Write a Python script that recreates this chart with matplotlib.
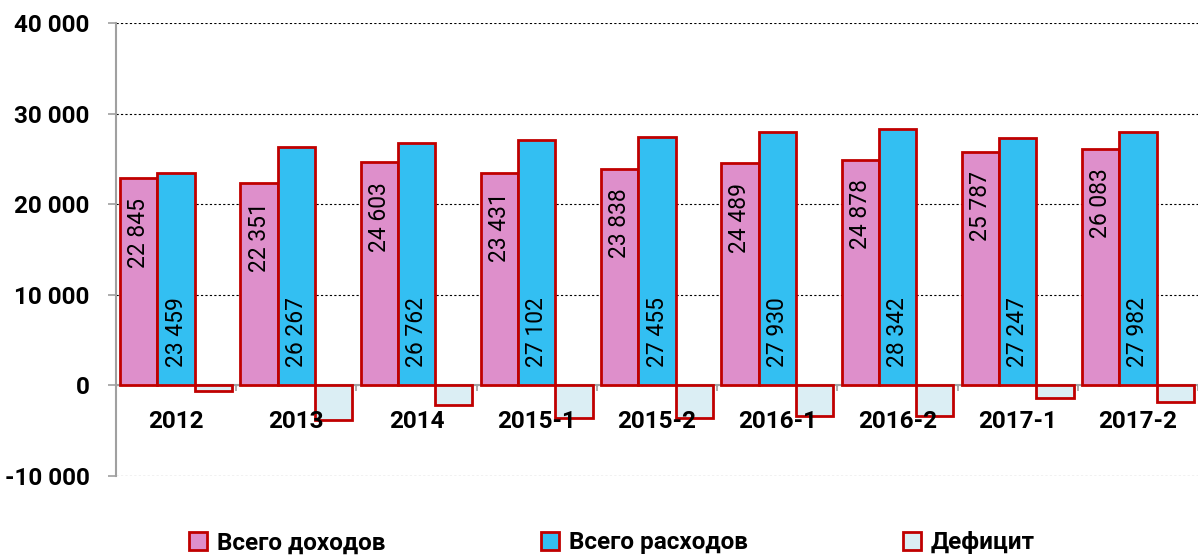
import numpy as np
import matplotlib
matplotlib.use("Agg")
import matplotlib.pyplot as plt
from matplotlib.patches import Patch

plt.rcParams['font.family'] = ['Roboto', 'DejaVu Sans']

# данные
periods = ['2012', '2013', '2014', '2015-1', '2015-2', '2016-1', '2016-2', '2017-1', '2017-2']
income = [22845, 22351, 24603, 23431, 23838, 24489, 24878, 25787, 26083]
expenses = [23459, 26267, 26762, 27102, 27455, 27930, 28342, 27247, 27982]
deficit = [-614, -3916, -2159, -3671, -3617, -3441, -3464, -1460, -1899]
legend_labels = ['Всего доходов', 'Всего расходов', 'Дефицит']

c_inc = '#DE8FCB'
c_exp = '#33BFF2'
c_def = '#DBEEF4'
c_edge = '#C00000'

def fmt(v):
    return f"{v:,}".replace(',', ' ')

fig = plt.figure(figsize=(11.98, 5.55), dpi=100)
ax = fig.add_axes([116/1198, 1-476/555, 1-116/1198, (476-23)/555])

x = np.arange(len(periods))
w = 0.31
ax.bar(x - w, income, w, color=c_inc, edgecolor=c_edge, linewidth=2, zorder=3)
ax.bar(x, expenses, w, color=c_exp, edgecolor=c_edge, linewidth=2, zorder=3)
ax.bar(x + w, deficit, w, color=c_def, edgecolor=c_edge, linewidth=2, zorder=3)

# подписи значений
for xi, v in zip(x - w, income):
    ax.annotate(fmt(v), (xi, v), xytext=(0, -14), textcoords='offset points',
                rotation=90, ha='center', va='top', fontsize=16.5, zorder=4)
for xi, v in zip(x, expenses):
    ax.annotate(fmt(v), (xi, 0), xytext=(0, 13), textcoords='offset points',
                rotation=90, ha='center', va='bottom', fontsize=16.5, zorder=4)

# подписи категорий
for xi, p in zip(x, periods):
    ax.annotate(p, (xi, 0), xytext=(0, -26), textcoords='offset points',
                ha='center', va='center', fontsize=17.5, fontweight='bold', zorder=5)

ax.set_xlim(-0.5, len(periods) - 0.5)
ax.set_ylim(-10050, 40000)
ax.set_yticks(np.arange(-10000, 40001, 10000))
ax.set_yticklabels([fmt(v) for v in range(-10000, 40001, 10000)],
                   fontsize=17.5, fontweight='bold')
ax.set_xticks(np.arange(-0.5, len(periods), 1))
ax.set_xticklabels([])

for s in ['top', 'right']:
    ax.spines[s].set_visible(False)
ax.spines['left'].set_color('#A0A0A0')
ax.spines['left'].set_linewidth(1.5)
ax.spines['bottom'].set_position(('data', 0))
ax.spines['bottom'].set_color('#A0A0A0')
ax.spines['bottom'].set_linewidth(1.5)
ax.tick_params(axis='y', length=6, color='#A0A0A0', width=1.2, pad=13)
ax.tick_params(axis='x', length=4, color='#A0A0A0', width=1.2, direction='out')

ax.yaxis.grid(True, linestyle=(0, (2, 2)), color='black', linewidth=0.8, zorder=0)
ax.set_axisbelow(True)

handles = [Patch(facecolor=c, edgecolor=c_edge, linewidth=2) for c in (c_inc, c_exp, c_def)]
fig.legend(handles, legend_labels, loc='center', bbox_to_anchor=(612/1198, 1-543/555),
           ncol=3, frameon=False, prop={'size': 17.5, 'weight': 'bold'},
           handlelength=0.75, handleheight=0.75, handletextpad=0.4, columnspacing=6.4)

fig.savefig('out.png', dpi=100)
